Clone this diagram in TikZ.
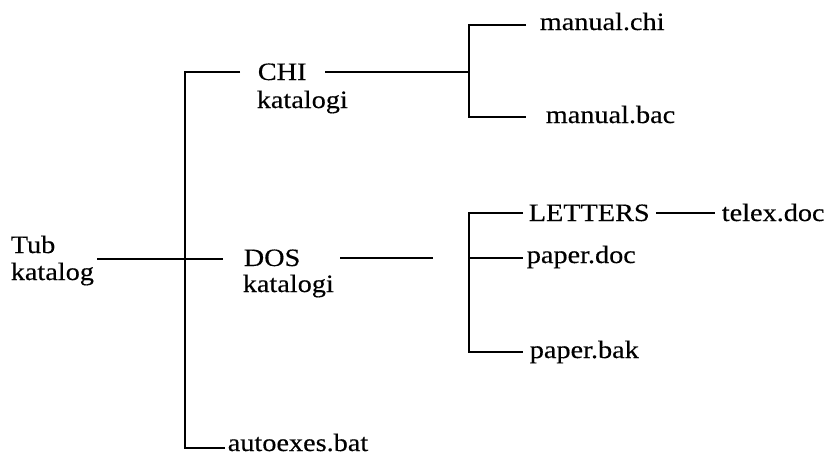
\documentclass[tikz,border=0pt]{standalone}
\usepackage{fontspec}
\setmainfont{Liberation Serif}[FakeStretch=1.13,FakeBold=0.4]
\begin{document}
\begin{tikzpicture}[x=1pt,y=-1pt,line width=1.6pt,line join=miter,
  txt/.style={anchor=base west,inner sep=0pt,font=\fontsize{25}{28}\selectfont}]
\useasboundingbox (0,0) rectangle (824,455);
% texts
\node[txt] (tub)   at (10,253)  {Tub};
\node[txt] (tubk)  at (10,280)  {katalog};
\node[txt] (chi)   at (257,80)  {CHI};
\node[txt] (chik)  at (256,108) {katalogi};
\node[txt] (dos)   at (243,266) {DOS};
\node[txt] (dosk)  at (242,292) {katalogi};
\node[txt] (mchi)  at (539,30)  {manual.chi};
\node[txt] (mbac)  at (545,123) {manual.bac};
\node[txt] (let)   at (528,221) {LETTERS};
\node[txt] (telex) at (721,221) {telex.doc};
\node[txt] (pdoc)  at (526,263) {paper.doc};
\node[txt] (pbak)  at (529,358) {paper.bak};
\node[txt] (auto)  at (227,451) {autoexes.bat};
% junction coordinates
\coordinate (r0) at (97,259);
\coordinate (rd) at (223,259);
\coordinate (rt) at (185,72);
\coordinate (rc) at (240,72);
\coordinate (rb) at (185,448);
\coordinate (ra) at (225,448);
\coordinate (c0) at (325,72);
\coordinate (c1) at (469,72);
\coordinate (cv1) at (469,25);
\coordinate (cv2) at (469,117);
\coordinate (cm1) at (526,25);
\coordinate (cm2) at (526,117);
\coordinate (d0) at (340,258);
\coordinate (d1) at (433,258);
\coordinate (lv1) at (469,213);
\coordinate (lv2) at (469,352);
\coordinate (l1) at (523,213);
\coordinate (pd0) at (469,258);
\coordinate (pd1) at (523,258);
\coordinate (pb1) at (523,352);
\coordinate (lt0) at (656,213);
\coordinate (lt1) at (715,213);
% connectors
\draw (r0) -- (rd);
\draw (rc) -- (rt) -- (rb) -- (ra);
\draw (c0) -- (c1);
\draw (cm1) -- (cv1) -- (cv2) -- (cm2);
\draw (d0) -- (d1);
\draw (l1) -- (lv1) -- (lv2) -- (pb1);
\draw (pd0) -- (pd1);
\draw (lt0) -- (lt1);
\end{tikzpicture}
\end{document}
